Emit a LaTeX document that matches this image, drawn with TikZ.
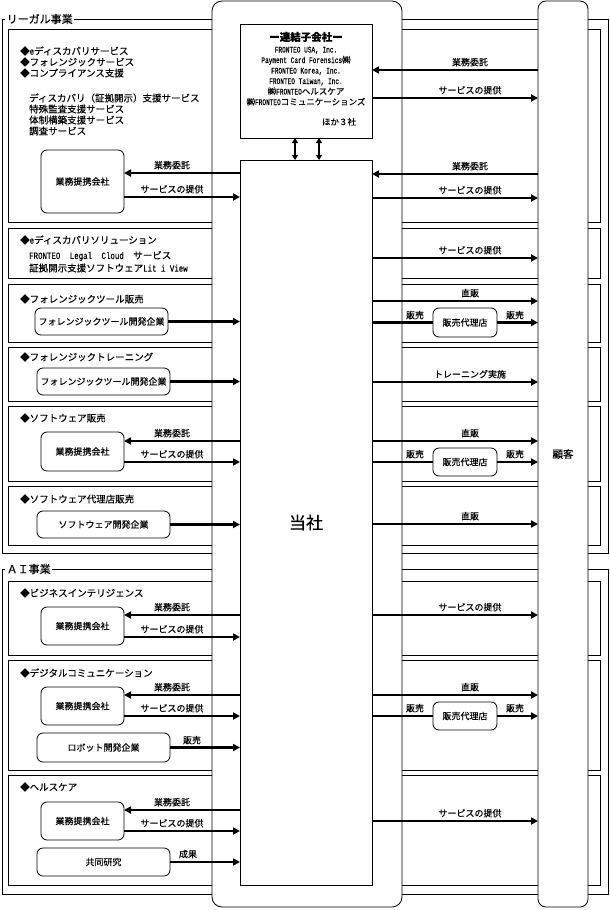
\documentclass[tikz,border=0pt]{standalone}
\usepackage{fontspec}
\setmainfont{Noto Sans CJK JP}[FakeBold=0.35]
\newfontfamily\lat[FakeStretch=0.78,FakeBold=0.35]{Liberation Mono}
\newfontfamily\latc[FakeStretch=0.72,FakeBold=0.3]{Liberation Mono}
\usetikzlibrary{arrows.meta}
\begin{document}
\begin{tikzpicture}[x=1pt,y=-1pt,
  frame/.style={draw,line width=0.8pt},
  framelab/.style={anchor=west,fill=white,inner sep=1.5pt,font=\fontsize{11}{12}\selectfont},
  col/.style={draw,fill=white,line width=0.8pt,inner sep=0pt,outer sep=0pt},
  rbox/.style={draw,fill=white,rounded corners=6pt,line width=0.8pt,inner sep=0pt,outer sep=0pt,font=\fontsize{9}{10}\selectfont},
  txt/.style={anchor=west,inner sep=0pt,font=\fontsize{9.5}{11}\selectfont},
  comp/.style={anchor=base,inner sep=0pt,font=\fontsize{8.5}{9}\selectfont},
  lab/.style={anchor=south,inner sep=0.5pt,font=\fontsize{9}{10}\selectfont},
  arr/.style={line width=2.4pt,-{Triangle[length=7pt,width=7pt]}},
  bar/.style={line width=2.4pt},
  dbl/.style={line width=2pt,{Triangle[length=5pt,width=6pt]}-{Triangle[length=5pt,width=6pt]}}
]
\useasboundingbox (0,0) rectangle (610,910);
% outer frames
\draw[frame] (2,19) rectangle (608,553);
\node[framelab] (legallab) at (5,19) {リーガル事業};
\draw[frame] (2,569) rectangle (608,894);
\node[framelab] (ailab) at (5,569) {ＡＩ事業};
% section boxes
\foreach \a/\b in {29/222,228/278,284/342,347/401,406/481,486/545,581/655,660/770,775/885}
  \draw[frame] (8,\a) rectangle (600,\b);
% columns
\node[col,minimum width=190pt,minimum height=906pt,rounded corners=10pt] (grp) at (307,454) {};
\node[col,minimum width=50pt,minimum height=906pt,rounded corners=8pt,font=\fontsize{10.5}{12}\selectfont] (cust) at (563,454) {顧客};
\node[col,minimum width=132pt,minimum height=114pt] (sub) at (306,81) {};
\node[col,minimum width=132pt,minimum height=725pt,font=\fontsize{17}{20}\selectfont] (tosha) at (306,522.5) {当社};
% subsidiary texts
\node[inner sep=0pt,font=\fontsize{10.5}{12}\selectfont\bfseries] (subt) at (306,37) {ー連結子会社ー};
\node[comp] (c1) at (306,52.5) {\latc FRONTEO USA, Inc.};
\node[comp] (c2) at (306,63) {{\latc Payment Card Forensics}㈱};
\node[comp] (c3) at (306,73.5) {\latc FRONTEO Korea, Inc.};
\node[comp] (c4) at (306,84) {\latc FRONTEO Taiwan, Inc.};
\node[comp] (c5) at (306,94.5) {㈱{\latc FRONTEO}ヘルスケア};
\node[comp] (c6) at (306,105) {㈱{\latc FRONTEO}コミュニケーションズ};
\node[comp] (c7) at (339,125) {ほか３社};
\draw[dbl] (sub.south -| 295,0) -- (tosha.north -| 295,0);
\draw[dbl] (sub.south -| 319,0) -- (tosha.north -| 319,0);
% section texts
\node[txt] (t1) at (20,51) {◆{\lat e}ディスカバリサービス};
\node[txt] (t2) at (20,62) {◆フォレンジックサービス};
\node[txt] (t3) at (20,73) {◆コンプライアンス支援};
\node[txt] (t4) at (29,98) {ディスカバリ（証拠開示）支援サービス};
\node[txt] (t5) at (29,109) {特殊監査支援サービス};
\node[txt] (t6) at (29,120) {体制構築支援サービス};
\node[txt] (t7) at (29,131) {調査サービス};
\node[txt] (t8) at (20,240) {◆{\lat e}ディスカバリソリューション};
\node[txt] (t9) at (29,256) {{\lat FRONTEO}　{\lat Legal}　{\lat Cloud}　サービス};
\node[txt] (t10) at (29,268) {証拠開示支援ソフトウェア{\lat Lit i View}};
\node[txt] (t11) at (20,299) {◆フォレンジックツール販売};
\node[txt] (t12) at (20,357) {◆フォレンジックトレーニング};
\node[txt] (t13) at (20,418) {◆ソフトウェア販売};
\node[txt] (t14) at (20,499) {◆ソフトウェア代理店販売};
\node[txt] (t15) at (20,593) {◆ビジネスインテリジェンス};
\node[txt] (t16) at (20,673) {◆デジタルコミュニケーション};
\node[txt] (t17) at (20,787) {◆ヘルスケア};
% left boxes
\node[rbox,minimum width=83pt,minimum height=63pt] (p1) at (82.5,181.5) {業務提携会社};
\node[rbox,minimum width=133pt,minimum height=27pt] (f1) at (101.5,321.5) {フォレンジックツール開発企業};
\node[rbox,minimum width=133pt,minimum height=27pt] (f2) at (103.5,381.5) {フォレンジックツール開発企業};
\node[rbox,minimum width=83pt,minimum height=39pt] (p2) at (82.5,451.5) {業務提携会社};
\node[rbox,minimum width=133pt,minimum height=27pt] (s1) at (103.5,524.5) {ソフトウェア開発企業};
\node[rbox,minimum width=83pt,minimum height=38pt] (p3) at (82.5,626) {業務提携会社};
\node[rbox,minimum width=83pt,minimum height=38pt] (p4) at (82.5,706) {業務提携会社};
\node[rbox,minimum width=133pt,minimum height=29pt] (r1) at (103.5,747.5) {ロボット開発企業};
\node[rbox,minimum width=83pt,minimum height=38pt] (p5) at (82.5,821) {業務提携会社};
\node[rbox,minimum width=133pt,minimum height=28pt] (j1) at (103.5,862) {共同研究};
% dealer boxes
\node[rbox,minimum width=64pt,minimum height=29pt] (d1) at (465,322.5) {販売代理店};
\node[rbox,minimum width=64pt,minimum height=28pt] (d2) at (465,462) {販売代理店};
\node[rbox,minimum width=64pt,minimum height=28pt] (d3) at (465,716) {販売代理店};
% ---- section 1 arrows
\draw[arr] (cust.west |- 0,70) -- (sub.east |- 0,70);
\node[lab] (a1) at (470,67) {業務委託};
\draw[arr] (sub.east |- 0,98) -- (cust.west |- 0,98);
\node[lab] (a2) at (470,95) {サービスの提供};
\draw[arr] (cust.west |- 0,174) -- (tosha.east |- 0,174);
\node[lab] (a3) at (470,171) {業務委託};
\draw[arr] (tosha.east |- 0,198) -- (cust.west |- 0,198);
\node[lab] (a4) at (470,195) {サービスの提供};
\draw[arr] (tosha.west |- 0,173) -- (p1.east |- 0,173);
\node[lab] (a5) at (172,170) {業務委託};
\draw[arr] (p1.east |- 0,197) -- (tosha.west |- 0,197);
\node[lab] (a6) at (172,194) {サービスの提供};
% ---- section 2
\draw[arr] (tosha.east |- 0,258) -- (cust.west |- 0,258);
\node[lab] (b1) at (470,255) {サービスの提供};
% ---- section 3
\draw[arr] (f1.east) -- (f1.east -| tosha.west);
\draw[arr] (tosha.east |- 0,301) -- (cust.west |- 0,301);
\node[lab] (b2) at (470,298) {直販};
\draw[bar] (tosha.east |- d1.west) -- (d1.west);
\node[lab] (b3) at (415,320) {販売};
\draw[arr] (d1.east) -- (d1.east -| cust.west);
\node[lab] (b4) at (515,320) {販売};
% ---- section 4
\draw[arr] (f2.east) -- (f2.east -| tosha.west);
\draw[arr] (tosha.east |- 0,382) -- (cust.west |- 0,382);
\node[lab] (b5) at (470,379) {トレーニング実施};
% ---- section 5
\draw[arr] (tosha.west |- 0,441) -- (p2.east |- 0,441);
\node[lab] (e1) at (172,438) {業務委託};
\draw[arr] (p2.east |- 0,462) -- (tosha.west |- 0,462);
\node[lab] (e2) at (172,459) {サービスの提供};
\draw[arr] (tosha.east |- 0,441) -- (cust.west |- 0,441);
\node[lab] (e3) at (470,438) {直販};
\draw[bar] (tosha.east |- d2.west) -- (d2.west);
\node[lab] (e4) at (415,459) {販売};
\draw[arr] (d2.east) -- (d2.east -| cust.west);
\node[lab] (e5) at (515,459) {販売};
% ---- section 6
\draw[arr] (s1.east) -- (s1.east -| tosha.west);
\draw[arr] (tosha.east |- 0,524) -- (cust.west |- 0,524);
\node[lab] (e6) at (470,521) {直販};
% ---- section 7
\draw[arr] (tosha.west |- 0,615) -- (p3.east |- 0,615);
\node[lab] (g1) at (172,612) {業務委託};
\draw[arr] (p3.east |- 0,637) -- (tosha.west |- 0,637);
\node[lab] (g2) at (172,634) {サービスの提供};
\draw[arr] (tosha.east |- 0,615) -- (cust.west |- 0,615);
\node[lab] (g3) at (470,612) {サービスの提供};
% ---- section 8
\draw[arr] (tosha.west |- 0,695) -- (p4.east |- 0,695);
\node[lab] (h1) at (172,692) {業務委託};
\draw[arr] (p4.east |- 0,716) -- (tosha.west |- 0,716);
\node[lab] (h2) at (172,713) {サービスの提供};
\draw[arr] (r1.east) -- (r1.east -| tosha.west);
\node[lab] (h3) at (192,745) {販売};
\draw[arr] (tosha.east |- 0,695) -- (cust.west |- 0,695);
\node[lab] (h4) at (470,692) {直販};
\draw[bar] (tosha.east |- d3.west) -- (d3.west);
\node[lab] (h5) at (415,713) {販売};
\draw[arr] (d3.east) -- (d3.east -| cust.west);
\node[lab] (h6) at (515,713) {販売};
% ---- section 9
\draw[arr] (tosha.west |- 0,810) -- (p5.east |- 0,810);
\node[lab] (k1) at (172,807) {業務委託};
\draw[arr] (p5.east |- 0,831) -- (tosha.west |- 0,831);
\node[lab] (k2) at (172,828) {サービスの提供};
\draw[arr] (j1.east) -- (j1.east -| tosha.west);
\node[lab] (k3) at (188,859) {成果};
\draw[arr] (tosha.east |- 0,821) -- (cust.west |- 0,821);
\node[lab] (k4) at (470,818) {サービスの提供};
\end{tikzpicture}
\end{document}
